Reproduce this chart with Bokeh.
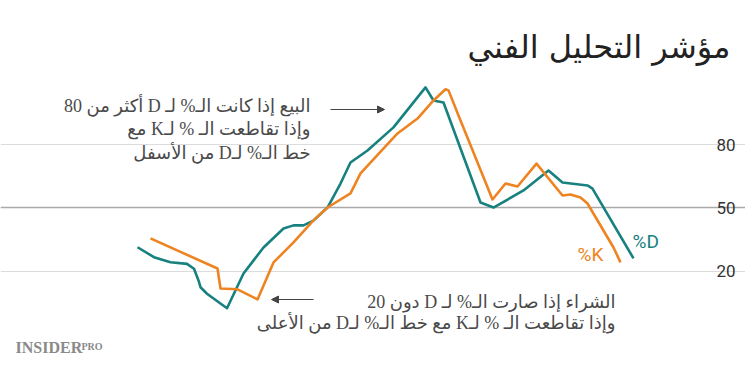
from bokeh.plotting import figure
from bokeh.models import FixedTicker, Grid, Label, Arrow, NormalHead, Range1d
from bokeh.embed import file_html
from bokeh.resources import INLINE

# ---- data ----
d_days = [0, 3.3, 6.6, 9.9, 11.3, 12.2, 12.6, 13.9, 17.9, 21.2, 25.2, 29.2, 31.2, 33.2,
          35.2, 38, 40.6, 42.6, 46, 51.2, 57.6, 59.2, 61.2, 68.6, 71.2, 77.2, 82.2, 85,
          90, 91, 99.2]
d_vals = [31.3, 26.6, 24.2, 23.4, 21.1, 15.5, 12.3, 9.2, 2.3, 18.8, 31.2, 40.2, 41.7, 41.7,
          44.0, 50.2, 61.6, 71.6, 77.3, 88.3, 107.3, 101.1, 100.1, 52.6, 50.2, 58.3, 67.8, 62.1,
          60.7, 59.2, 26.0]
k_days = [2.6, 16, 16.6, 20, 24, 27.2, 31.2, 35.2, 38, 42.6, 44.6, 52, 56, 59.2, 61.6,
          62.2, 64.2, 71, 73.6, 76, 79.8, 85, 86.6, 88.6, 90, 95.2, 96.6]
k_vals = [35.5, 21.2, 11.7, 11.3, 6.5, 24.1, 33.6, 44.1, 50.2, 56.9, 66.4, 85.4, 92.5, 101.1,
          106.4, 105.9, 94.0, 54.0, 61.6, 60.2, 71.1, 55.9, 56.4, 55.0, 52.1, 31.2, 24.1]
tick_values = [20, 50, 80]
tick_labels = ["20", "50", "80"]
mid_value = [50]

TEAL = "#17817f"
ORANGE = "#ee8421"

RLE, PDF = "\u202b", "\u202c"
def rtl(s):
    return RLE + s + PDF

title_text = "مؤشر التحليل الفني"
sell_lines = ["البيع إذا كانت الـ% لـ D أكثر من 80",
              "وإذا تقاطعت الـ % لـK مع",
              "خط الـ% لـD من الأسفل"]
buy_lines = ["الشراء إذا صارت الـ% لـ D دون 20",
             "وإذا تقاطعت الـ % لـK مع خط الـ% لـD من الأعلى"]

# page-pixel -> data helpers (for annotation placement)
X0, XS = 137.0, 5.0
Y50, YS = 207.43, 2.103
def dx(px):
    return (px - X0) / XS
def dy(py):
    return 50 - (py - Y50) / YS

W, H = 745, 360
p = figure(width=W, height=H, output_backend="svg", toolbar_location=None,
           x_axis_location=None, y_axis_location=None,
           x_range=Range1d(dx(0), dx(W)), y_range=Range1d(dy(H), dy(0)),
           min_border=0)
p.outline_line_color = None
p.background_fill_color = "white"
p.border_fill_color = "white"
p.xgrid.visible = False
p.ygrid.visible = False

grid_bounds = (dx(10), dx(707))
p.add_layout(Grid(dimension=1, ticker=FixedTicker(ticks=tick_values), bounds=grid_bounds,
                  grid_line_color="#dcdcdc", grid_line_width=1))
p.add_layout(Grid(dimension=1, ticker=FixedTicker(ticks=mid_value), bounds=grid_bounds,
                  grid_line_color="#aaaaaa", grid_line_width=1.5))

for v, t in zip(tick_values, tick_labels):
    p.add_layout(Label(x=dx(716), y=v, text=t, text_font="Roboto", text_font_size="17px",
                       text_color="#333333", text_baseline="middle"))

p.line(d_days, d_vals, line_color=TEAL, line_width=2.6, line_join="round")
p.line(k_days, k_vals, line_color=ORANGE, line_width=2.6, line_join="round")

p.add_layout(Label(x=dx(632), y=dy(241), text="%D", text_font="Roboto",
                   text_font_size="19px", text_color=TEAL, text_baseline="alphabetic"))
p.add_layout(Label(x=dx(577), y=dy(254), text="%K", text_font="Roboto",
                   text_font_size="19px", text_color=ORANGE, text_baseline="alphabetic"))

p.add_layout(Label(x=dx(730), y=dy(46), text=title_text, text_font="DejaVu Sans",
                   text_font_size="32px", text_color="#222222", text_align="right",
                   text_baseline="alphabetic"))

ann_font = "Liberation Serif, DejaVu Sans"
for i, s in enumerate(sell_lines):
    p.add_layout(Label(x=dx(310), y=dy(105 + 23.5 * i), text=rtl(s), text_font=ann_font,
                       text_font_size="18px", text_color="#4a4a4a", text_align="right",
                       text_baseline="alphabetic"))
for i, s in enumerate(buy_lines):
    p.add_layout(Label(x=dx(615), y=dy(301 + 21 * i), text=rtl(s), text_font=ann_font,
                       text_font_size="18px", text_color="#4a4a4a", text_align="right",
                       text_baseline="alphabetic"))

p.add_layout(Arrow(x_start=dx(330), y_start=dy(109), x_end=dx(384), y_end=dy(109),
                   line_color="#444444", line_width=1,
                   end=NormalHead(size=7, fill_color="#444444", line_color="#444444")))
p.add_layout(Arrow(x_start=dx(313), y_start=dy(299), x_end=dx(271), y_end=dy(299),
                   line_color="#444444", line_width=1,
                   end=NormalHead(size=7, fill_color="#444444", line_color="#444444")))

p.add_layout(Label(x=dx(15), y=dy(347), text="INSIDER", text_font="Liberation Serif",
                   text_font_style="bold", text_font_size="16px", text_color="#8a8a8a",
                   text_baseline="alphabetic"))
p.add_layout(Label(x=dx(81), y=dy(345.5), text="PRO", text_font="Liberation Serif",
                   text_font_style="bold", text_font_size="10px", text_color="#8a8a8a",
                   text_baseline="alphabetic"))

open("out.html", "w").write(file_html(p, INLINE))
